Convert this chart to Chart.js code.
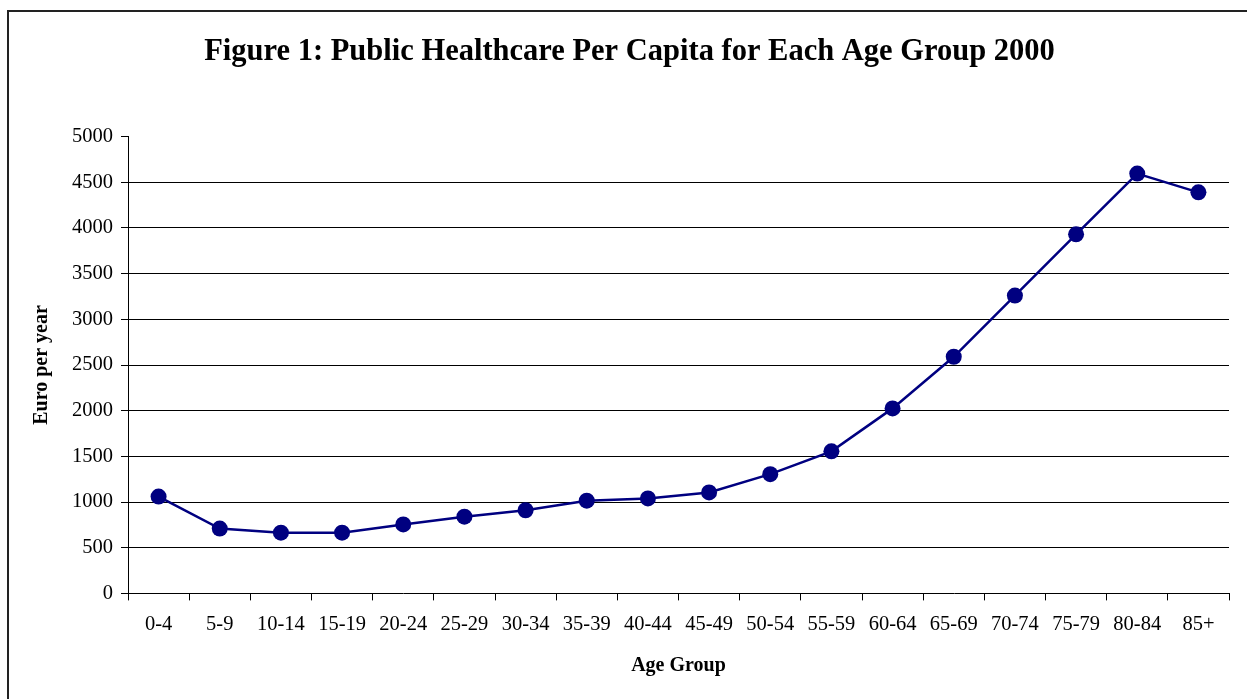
<!DOCTYPE html>
<html>
<head>
<meta charset="utf-8">
<title>Figure 1</title>
<script src="https://cdn.jsdelivr.net/npm/chart.js@4"></script>
<style>
  body { margin: 0; background: #fff; overflow: hidden; }
  #wrap { position: relative; width: 1247px; height: 699px; }
  #frame { position: absolute; left: 7px; top: 10px; width: 1300px; height: 800px; border: 2px solid #222; box-sizing: border-box; }
  canvas { position: absolute; left: 0; top: 0; }
</style>
</head>
<body>
<div id="wrap">
  <div id="frame"></div>
  <canvas id="chart" width="1247" height="699"></canvas>
</div>
<script>
// Dades llegides del gràfic
const ageGroups = ['0-4', '5-9', '10-14', '15-19', '20-24', '25-29', '30-34', '35-39', '40-44',
  '45-49', '50-54', '55-59', '60-64', '65-69', '70-74', '75-79', '80-84', '85+'];
const euroPerYear = [1060, 710, 665, 665, 755, 840, 910, 1015, 1040,
  1105, 1305, 1555, 2025, 2590, 3260, 3930, 4595, 4390];
const yTicks = [0, 500, 1000, 1500, 2000, 2500, 3000, 3500, 4000, 4500, 5000];

const serif = "'Liberation Serif', 'Times New Roman', serif";
Chart.defaults.font.family = serif;
Chart.defaults.color = '#000';

const ctx = document.getElementById('chart').getContext('2d');
new Chart(ctx, {
  type: 'line',
  data: {
    labels: ageGroups,
    datasets: [{
      label: 'Euro per year',
      data: euroPerYear,
      borderColor: '#000080',
      backgroundColor: '#000080',
      borderWidth: 2.5,
      pointRadius: 8,
      pointHoverRadius: 8,
      pointBackgroundColor: '#000080',
      pointBorderWidth: 0,
      tension: 0
    }]
  },
  options: {
    responsive: false,
    animation: false,
    events: [],
    layout: { padding: { left: 30, right: 18, top: 18, bottom: 21 } },
    plugins: {
      legend: { display: false },
      tooltip: { enabled: false },
      title: {
        display: true,
        text: 'Figure 1: Public Healthcare Per Capita for Each Age Group 2000',
        font: { size: 30.5, weight: 'bold', family: serif },
        color: '#000',
        padding: { top: 16, bottom: 66 }
      }
    },
    scales: {
      x: {
        offset: true,
        grid: { offset: true, drawOnChartArea: false, tickLength: 7, tickColor: '#000', lineWidth: 1 },
        border: { display: true, color: '#000', width: 1 },
        ticks: { font: { size: 20.5 }, color: '#000', padding: 12, maxRotation: 0, autoSkip: false },
        title: { display: true, text: 'Age Group', font: { size: 20, weight: 'bold' }, color: '#000', padding: { top: 5, bottom: 0 } }
      },
      y: {
        min: 0,
        max: 5000,
        afterBuildTicks: axis => { axis.ticks = yTicks.map(v => ({ value: v })); },
        grid: {
          color: c => (c.tick && (c.tick.value === 5000 || c.tick.value === 0)) ? 'rgba(0,0,0,0)' : '#000',
          tickColor: '#000',
          tickLength: 7,
          lineWidth: 1
        },
        border: { display: true, color: '#000', width: 1 },
        ticks: { font: { size: 20.5 }, color: '#000', padding: 8, callback: v => String(v) },
        title: { display: true, text: 'Euro per year', font: { size: 20, weight: 'bold' }, color: '#000', padding: { top: 0, bottom: 10 } }
      }
    }
  }
});
</script>
</body>
</html>
